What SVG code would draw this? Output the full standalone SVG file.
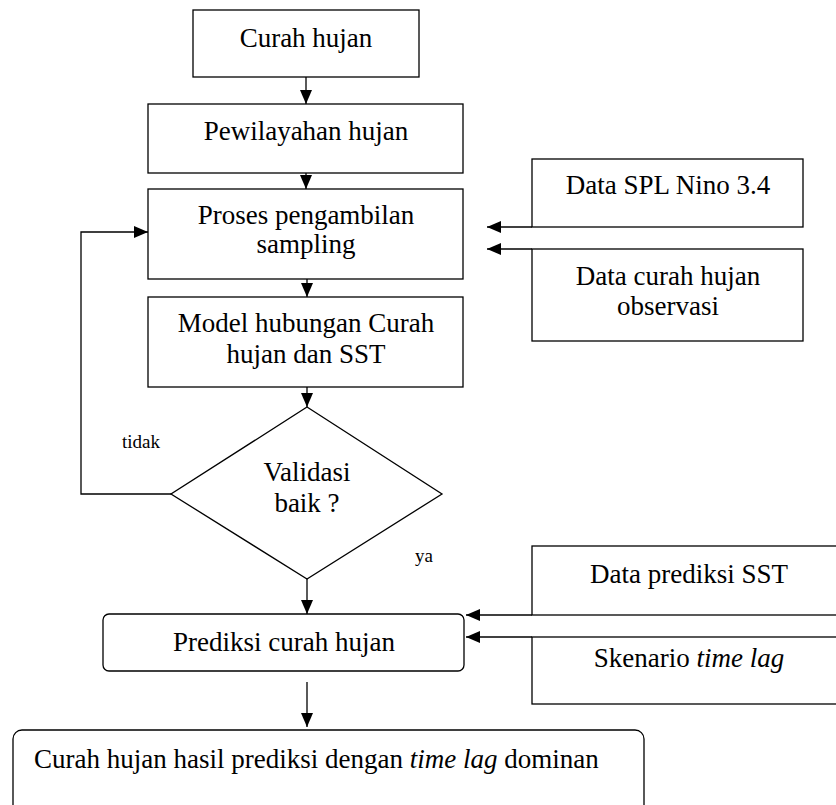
<svg xmlns="http://www.w3.org/2000/svg" width="836" height="805" viewBox="0 0 836 805">
<defs>
<style>
.b{fill:#fff;stroke:#000;stroke-width:1.3}
.t{font-family:'Liberation Serif','DejaVu Serif',serif;font-size:27px;fill:#000;text-anchor:middle}
.s{font-family:'Liberation Serif','DejaVu Serif',serif;font-size:19px;fill:#000}
.c{fill:none;stroke:#000;stroke-width:1.3}
</style>
<marker id="ah" markerUnits="userSpaceOnUse" markerWidth="14" markerHeight="14" viewBox="0 0 14 14" refX="14" refY="7" orient="auto">
<path d="M0,1 L14,7 L0,13 Z" fill="#000"/>
</marker>
</defs>
<g id="n1"><rect class="b" x="193" y="10" width="226" height="67"/><text class="t" x="306" y="47" font-family="Liberation Serif, serif">Curah hujan</text></g>
<g id="n2"><rect class="b" x="148" y="104" width="315" height="69"/><text class="t" x="306" y="140">Pewilayahan hujan</text></g>
<g id="n3"><rect class="b" x="148" y="189" width="315" height="90"/><text class="t" x="306" y="224">Proses pengambilan</text><text class="t" x="306" y="253">sampling</text></g>
<g id="n4"><rect class="b" x="148" y="297" width="315" height="90"/><text class="t" x="306" y="332">Model hubungan Curah</text><text class="t" x="306" y="363">hujan dan SST</text></g>
<g id="n5"><polygon class="b" points="307,407 442,494 307,579 171,494"/><text class="t" x="307" y="481">Validasi</text><text class="t" x="307" y="512">baik ?</text></g>
<g id="n6"><rect class="b" x="532" y="159" width="271" height="68"/><text class="t" x="668" y="194">Data SPL Nino 3.4</text></g>
<g id="n7"><rect class="b" x="532" y="249" width="271" height="92"/><text class="t" x="668" y="285">Data curah hujan</text><text class="t" x="668" y="315">observasi</text></g>
<g id="n8"><rect class="b" x="103" y="614" width="361" height="57" rx="6"/><text class="t" x="284" y="651">Prediksi curah hujan</text></g>
<g id="n9"><rect class="b" x="532" y="546" width="316" height="69"/><text class="t" x="689" y="583">Data prediksi SST</text></g>
<g id="n10"><rect class="b" x="532" y="637" width="316" height="67"/><text class="t" x="689" y="667">Skenario <tspan font-style="italic">time lag</tspan></text></g>
<g id="n11"><rect class="b" x="13" y="730" width="631" height="90" rx="9"/><text class="t" x="34" y="768" style="text-anchor:start">Curah hujan hasil prediksi dengan <tspan font-style="italic">time lag</tspan> dominan</text></g>
<g id="labels"><text class="s" x="122" y="448">tidak</text><text class="s" x="415" y="562">ya</text></g>
<g id="connectors">
<line class="c" x1="306" y1="77" x2="306" y2="104" marker-end="url(#ah)"/>
<line class="c" x1="306" y1="173" x2="306" y2="189" marker-end="url(#ah)"/>
<line class="c" x1="307" y1="279" x2="307" y2="297" marker-end="url(#ah)"/>
<line class="c" x1="307" y1="387" x2="307" y2="407" marker-end="url(#ah)"/>
<line class="c" x1="307" y1="579" x2="307" y2="614" marker-end="url(#ah)"/>
<line class="c" x1="307" y1="682" x2="307" y2="727" marker-end="url(#ah)"/>
<polyline class="c" points="171,494 81,494 81,232 148,232" marker-end="url(#ah)"/>
<line class="c" x1="532" y1="227" x2="487" y2="227" marker-end="url(#ah)"/>
<line class="c" x1="532" y1="249" x2="487" y2="249" marker-end="url(#ah)"/>
<line class="c" x1="532" y1="615" x2="466" y2="615" marker-end="url(#ah)"/>
<line class="c" x1="532" y1="637" x2="466" y2="637" marker-end="url(#ah)"/>
</g>
</svg>
